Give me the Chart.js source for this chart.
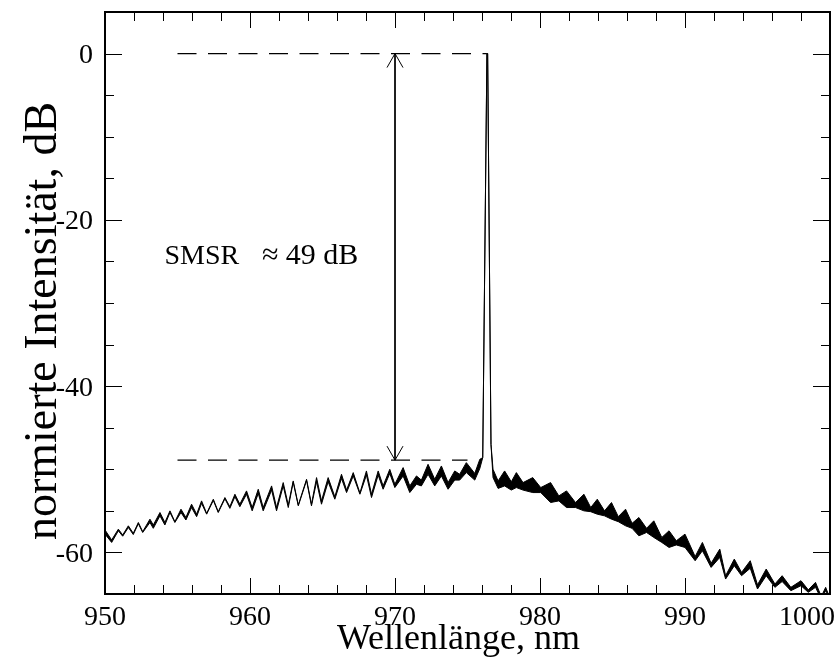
<!DOCTYPE html>
<html>
<head>
<meta charset="utf-8">
<script src="https://cdn.jsdelivr.net/npm/chart.js@4/dist/chart.umd.min.js"></script>
<style>
  body { margin: 0; background: #fff; }
  #wrap { width: 840px; height: 670px; }
</style>
</head>
<body>
<div id="wrap"><canvas id="chart" width="840" height="670"></canvas></div>
<script>
// spectrum: wavelength (nm) with upper / lower edge of the noisy trace (dB)
const wavelength = [
  950.00, 950.46, 950.92, 951.22, 951.61, 951.95, 952.30, 952.60, 953.10, 953.33,
  953.79, 954.13, 954.48, 954.82, 955.24, 955.58, 955.97, 956.32, 956.66, 957.01,
  957.47, 957.81, 958.27, 958.61, 958.96, 959.30, 959.76, 960.15,
  960.57, 960.91, 961.49, 961.83, 962.29, 962.64, 962.98, 963.33, 963.90, 964.24,
  964.59, 964.93, 965.39, 965.85, 966.31, 966.66, 967.12, 967.58, 968.03, 968.38,
  968.84, 969.18, 969.64, 969.99,
  970.56, 971.02, 971.48, 971.82, 972.28, 972.74, 973.20, 973.66, 974.12, 974.46,
  974.92, 975.50, 975.85,
  976.05, 976.34, 976.39, 976.62,
  976.76, 977.11, 977.56, 978.02, 978.37, 978.83, 979.50, 980.05, 980.73, 981.30,
  981.83, 982.45, 983.03, 983.50, 983.95, 984.45, 984.93, 985.40, 985.90, 986.35,
  986.82, 987.35, 987.85, 988.40, 988.90, 989.40, 990.00,
  990.70, 991.20, 991.80, 992.40, 992.80, 993.40, 993.90, 994.50, 995.00, 995.60,
  996.20, 996.70, 997.30, 998.00, 998.50, 999.00, 999.40, 999.70, 1000.00
];
const upperDb = [
  -57.3, -58.5, -57.2, -57.9, -56.8, -57.7, -56.4, -57.5, -56.0, -56.7,
  -55.2, -56.4, -55.0, -56.3, -54.8, -55.8, -54.2, -55.4, -53.8, -55.3,
  -53.6, -55.1, -53.4, -54.5, -53.0, -54.2, -52.6, -54.6,
  -52.4, -54.6, -52.0, -54.6, -51.6, -54.3, -51.4, -54.3, -51.2, -54.2,
  -51.0, -53.8, -51.0, -53.3, -50.6, -52.5, -50.4, -52.85, -50.2, -53.0,
  -50.2, -52.0, -50.0, -51.8,
  -49.8, -52.0, -50.8, -51.3, -49.4, -51.2, -49.6, -51.6, -50.2, -50.6,
  -49.2, -50.5, -48.8,
  -48.6, 0.0, 0.0, -47.0,
  -50.0, -51.4, -50.2, -51.5, -50.4, -51.6, -51.0, -52.2, -51.6, -53.2,
  -52.6, -54.0, -53.0, -54.6, -53.6, -55.0, -54.0, -55.7, -54.8, -56.5,
  -55.8, -57.1, -56.2, -58.2, -57.4, -58.6, -57.8,
  -60.5, -58.8, -61.3, -59.6, -62.8, -60.8, -62.4, -61.0, -63.9, -62.0,
  -63.8, -62.8, -64.2, -63.4, -64.5, -63.6, -65.3, -64.2, -65.5
];
const lowerDb = [
  -57.8, -58.8, -57.4, -58.05, -57.0, -57.85, -56.55, -57.6, -56.4, -57.1,
  -55.6, -56.7, -55.2, -56.4, -55.2, -56.1, -54.6, -55.7, -54.1, -55.4,
  -53.75, -55.2, -53.55, -54.7, -53.3, -54.5, -53.0, -55.0,
  -52.9, -55.0, -52.5, -55.0, -52.0, -54.6, -51.55, -54.4, -51.35, -54.4,
  -51.5, -54.2, -51.5, -53.6, -51.1, -52.8, -50.8, -53.0, -50.7, -53.4,
  -50.7, -52.4, -50.5, -52.2,
  -50.8, -52.8, -51.8, -52.0, -50.6, -52.0, -50.8, -52.4, -51.3, -51.3,
  -50.4, -51.3, -49.9,
  -48.6, 0.0, 0.0, -47.0,
  -51.0, -52.3, -52.0, -52.5, -52.2, -52.5, -52.8, -52.8, -54.0, -53.8,
  -54.6, -54.6, -55.0, -55.1, -55.4, -55.6, -56.0, -56.3, -56.8, -57.1,
  -58.0, -57.6, -58.2, -58.8, -59.4, -59.1, -59.4,
  -61.0, -59.8, -61.8, -60.6, -63.2, -61.6, -62.8, -61.9, -64.4, -62.8,
  -64.2, -63.5, -64.6, -64.0, -64.8, -64.2, -65.6, -64.6, -65.5
];

// SMSR annotation
const peakLevel = 0;
const sideModeLevel = -48.9;
const dashFrom = 955;
const peakX = 976.34;
const sideModeX = 975.0;
const arrowX = 970;
const smsrName = 'SMSR';
const smsrValue = '\u2248 49 dB';
const smsrPos = { x: 954.1, y: -24.4 };
const smsrValueX = 960.82;

const xTitle = 'Wellenlänge, nm';
const yTitle = 'normierte Intensität, dB';
const serif = "'Liberation Serif', 'Times New Roman', serif";

const toPoints = (ys) => wavelength.map((x, i) => ({ x: x, y: ys[i] }));

const frame = {
  id: 'frame',
  afterDraw: chart => {
    const ctx = chart.ctx;
    const a = chart.chartArea;
    const xs = chart.scales.x;
    const ys = chart.scales.y;
    ctx.save();
    ctx.strokeStyle = '#000';
    ctx.fillStyle = '#000';

    // inward ticks on all four sides
    ctx.lineWidth = 1;
    ctx.beginPath();
    xs.ticks.forEach(t => {
      if (t.value <= xs.min || t.value >= xs.max) return;
      const len = Math.round(t.value) % 10 === 0 ? 16 : 9;
      const px = Math.round(xs.getPixelForValue(t.value)) + 0.5;
      ctx.moveTo(px, a.bottom); ctx.lineTo(px, a.bottom - len);
      ctx.moveTo(px, a.top); ctx.lineTo(px, a.top + len);
    });
    ys.ticks.forEach(t => {
      if (t.value <= ys.min || t.value >= ys.max) return;
      const len = Math.round(t.value) % 20 === 0 ? 17 : 9;
      const py = Math.round(ys.getPixelForValue(t.value)) + 0.5;
      ctx.moveTo(a.left, py); ctx.lineTo(a.left + len, py);
      ctx.moveTo(a.right, py); ctx.lineTo(a.right - len, py);
    });
    ctx.stroke();

    ctx.lineWidth = 2;
    ctx.strokeRect(a.left, a.top, a.right - a.left, a.bottom - a.top);

    // tick labels
    ctx.font = '28px ' + serif;
    ctx.textBaseline = 'alphabetic';
    ctx.textAlign = 'left';
    xs.ticks.forEach(t => {
      if (Math.round(t.value) % 10 !== 0) return;
      const s = String(Math.round(t.value));
      const w = ctx.measureText(s).width;
      let px = xs.getPixelForValue(t.value) - w / 2;
      px = Math.min(px, chart.width - 5 - w);
      ctx.fillText(s, px, a.bottom + 31);
    });
    ctx.textAlign = 'right';
    ys.ticks.forEach(t => {
      if (Math.round(t.value) % 20 !== 0) return;
      ctx.fillText(String(Math.round(t.value)), a.left - 12, ys.getPixelForValue(t.value) + 9.5);
    });

    // axis titles
    ctx.font = '36px ' + serif;
    ctx.textAlign = 'center';
    ctx.fillText(xTitle, (a.left + a.right) / 2 - 9, 649);
    ctx.save();
    ctx.translate(56, 321);
    ctx.rotate(-Math.PI / 2);
    ctx.font = '46px ' + serif;
    ctx.fillText(yTitle, 0, 0);
    ctx.restore();

    // arrow heads of the SMSR arrow
    const ax = xs.getPixelForValue(arrowX);
    const yTop = ys.getPixelForValue(peakLevel);
    const yBot = ys.getPixelForValue(sideModeLevel);
    ctx.lineWidth = 1;
    ctx.beginPath();
    ctx.moveTo(ax - 8, yTop + 14); ctx.lineTo(ax, yTop); ctx.lineTo(ax + 8, yTop + 14);
    ctx.moveTo(ax - 8, yBot - 14); ctx.lineTo(ax, yBot); ctx.lineTo(ax + 8, yBot - 14);
    ctx.stroke();

    ctx.textAlign = 'left';
    ctx.textBaseline = 'middle';
    const ty = ys.getPixelForValue(smsrPos.y);
    ctx.font = '28px ' + serif;
    ctx.fillText(smsrName, xs.getPixelForValue(smsrPos.x), ty);
    ctx.font = '30px ' + serif;
    ctx.fillText(smsrValue, xs.getPixelForValue(smsrValueX), ty);
    ctx.restore();
  }
};

new Chart(document.getElementById('chart'), {
  type: 'line',
  data: {
    datasets: [
      { data: toPoints(upperDb), borderColor: '#000', borderWidth: 1, pointRadius: 0, fill: false },
      { data: toPoints(lowerDb), borderColor: '#000', borderWidth: 1, pointRadius: 0,
        fill: '-1', backgroundColor: '#000' },
      { data: [{ x: dashFrom, y: peakLevel }, { x: peakX, y: peakLevel }],
        borderColor: '#000', borderWidth: 1.2, borderDash: [19, 11.5], pointRadius: 0 },
      { data: [{ x: dashFrom, y: sideModeLevel }, { x: sideModeX, y: sideModeLevel }],
        borderColor: '#000', borderWidth: 1.2, borderDash: [19, 11.5], pointRadius: 0 },
      { data: [{ x: arrowX, y: peakLevel }, { x: arrowX, y: sideModeLevel }],
        borderColor: '#000', borderWidth: 1, pointRadius: 0 }
    ]
  },
  options: {
    responsive: false,
    animation: false,
    layout: { padding: { left: 105, top: 12, right: 10, bottom: 76 } },
    plugins: { legend: { display: false }, tooltip: { enabled: false } },
    scales: {
      x: { type: 'linear', min: 950, max: 1000, display: false,
           ticks: { stepSize: 2, autoSkip: false } },
      y: { type: 'linear', min: -65, max: 5, display: false,
           ticks: { stepSize: 5, autoSkip: false } }
    }
  },
  plugins: [frame]
});
</script>
</body>
</html>
